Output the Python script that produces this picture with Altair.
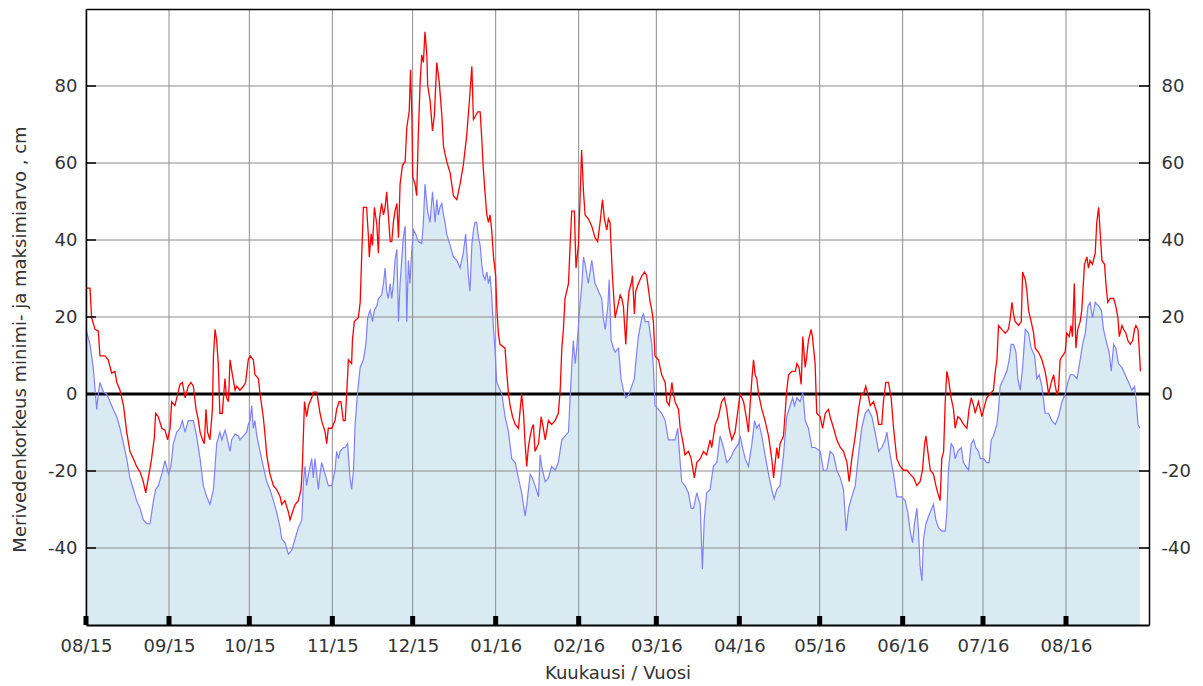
import altair as alt
import pandas as pd

START = "2015-08-01"

# Daily maximum sea level (cm), day offset from START
max_days = [0, 1.5, 2.1, 3.4, 4.6, 5.2, 7.1, 8.3, 9.6, 10.8, 11.5, 12.7, 14.0, 15.2, 16.4, 17.7, 18.9, 20.2, 21.4, 22.3,
            23.3, 24.5, 25.5, 26.0, 27.0, 28.3, 29.5, 30.5, 31.4, 32.0, 33.2, 33.9, 35.1, 36.0, 37.0, 38.2, 39.2, 40.1,
            41.1, 42.0, 42.6, 43.5, 44.2, 44.8, 45.4, 46.3, 47.2, 47.6, 48.2, 48.8, 49.4, 50.0, 50.9, 51.9, 52.5, 53.2,
            53.8, 54.7, 55.7, 56.3, 57.5, 58.8, 59.6, 60.6, 61.3, 62.5, 63.1, 64.4, 65.0, 66.2, 66.9, 67.5, 68.7, 70.0,
            71.2, 72.5, 73.1, 74.3, 75.6, 76.2, 77.1, 78.1, 79.3, 80.3, 80.8, 81.6, 82.4, 83.1, 84.3, 84.9, 86.2, 87.4,
            88.0, 89.3, 89.9, 90.5, 91.8, 93.0, 93.6, 94.5, 95.2, 96.1, 96.8, 97.4, 98.0, 99.2, 99.5, 100.2, 101.7,
            102.4, 103.0, 103.6, 104.8, 105.5, 105.8, 106.5, 107.0, 107.7, 108.6, 109.2, 109.6, 110.4, 111.1, 111.7,
            112.3, 112.9, 113.6, 114.2, 114.8, 115.4, 116.1, 116.7, 117.3, 118.2, 119.2, 119.8, 120.7, 121.2, 121.7,
            122.0, 122.9, 123.5, 124.1, 124.8, 125.4, 126.0, 126.6, 127.3, 127.6, 128.5, 129.4, 130.1, 131.0, 131.9,
            132.9, 133.5, 134.7, 136.0, 137.2, 138.5, 139.7, 140.9, 142.2, 143.4, 144.1, 144.7, 146.3, 147.2, 147.8,
            148.4, 149.0, 149.7, 150.3, 150.9, 151.5, 152.2, 153.0, 153.4, 154.0, 154.6, 156.5, 157.1, 157.8, 158.4,
            159.3, 160.3, 161.5, 162.7, 163.4, 164.0, 164.6, 165.2, 165.9, 166.5, 167.1, 167.7, 169.0, 170.0, 170.8,
            171.5, 172.7, 173.9, 175.2, 176.4, 177.1, 177.7, 178.3, 178.9, 180.2, 180.8, 181.4, 182.4, 183.0, 183.9,
            184.5, 185.1, 185.8, 186.4, 187.6, 188.9, 190.1, 191.1, 192.0, 192.9, 193.6, 194.5, 195.1, 195.7, 196.6,
            197.6, 198.9, 199.5, 200.1, 200.7, 201.6, 202.3, 202.8, 203.6, 204.1, 204.8, 205.3, 206.3, 207.6, 208.6,
            209.4, 210.7, 211.3, 211.9, 212.5, 213.8, 215.0, 216.3, 216.9, 217.8, 218.8, 219.4, 220.0, 221.3, 221.9,
            222.8, 223.7, 225.0, 226.0, 227.2, 228.1, 229.4, 230.6, 231.8, 233.1, 233.7, 235.0, 236.2, 237.4, 238.4,
            239.3, 240.2, 241.2, 242.4, 243.7, 244.3, 245.6, 246.8, 247.4, 248.0, 248.7, 249.3, 249.9, 250.5, 251.2,
            252.4, 253.6, 254.9, 256.1, 256.8, 257.4, 258.0, 258.6, 259.2, 260.5, 261.1, 261.7, 262.4, 263.6, 264.9,
            265.5, 266.3, 267.1, 267.7, 268.6, 269.2, 269.8, 270.8, 271.3, 272.3, 272.9, 274.2, 275.1, 276.1, 277.3,
            277.9, 279.2, 280.4, 281.7, 282.9, 284.2, 285.0, 286.0, 287.3, 288.5, 289.5, 290.4, 291.2, 292.0, 292.9,
            294.1, 295.4, 296.0, 297.2, 297.8, 298.7, 299.7, 300.7, 301.6, 302.8, 304.1, 305.3, 306.6, 307.8, 309.1,
            310.3, 311.5, 312.4, 313.2, 313.7, 314.4, 315.3, 316.5, 317.4, 318.1, 319.0, 319.6, 320.3, 320.9, 321.5,
            322.1, 323.1, 324.0, 324.6, 325.6, 326.5, 327.7, 329.0, 329.8, 330.6, 331.5, 332.1, 333.3, 334.0, 334.6,
            335.6, 336.4, 337.7, 338.9, 339.6, 340.2, 340.8, 342.0, 343.3, 344.5, 345.2, 345.8, 346.4, 347.0, 348.3,
            349.3, 349.8, 350.8, 351.4, 352.0, 353.0, 353.9, 354.5, 355.7, 357.0, 358.2, 358.9, 359.5, 360.5, 361.4,
            362.0, 362.6, 363.2, 363.8, 364.7, 365.7, 366.3, 367.2, 367.9, 368.4, 369.1, 369.7, 370.4, 371.3, 371.9,
            372.9, 373.8, 374.4, 375.0, 375.9, 376.9, 377.5, 378.2, 378.8, 379.4, 380.4, 380.9, 381.6, 382.5, 383.8,
            384.6, 385.4, 385.9, 386.9, 387.5, 388.4, 389.1, 390.0, 390.9, 391.6, 392.1, 392.9, 393.4, 393.8]
max_vals = [27.5, 27.5, 19.8, 16.8, 16.3, 9.9, 9.9, 8.9, 5.4, 5.9, 3.0, 1.0, -3.0, -9.9, -14.9, -16.8, -18.8, -20.3, -22.8, -25.7,
            -21.8, -16.8, -11.4, -5.0, -5.9, -8.9, -9.4, -11.9, -8.9, -2.0, -3.0, -1.0, 2.5, 3.0, -1.0, 2.0, 3.0, 2.0,
            -4.0, -6.9, -9.9, -11.9, -12.9, -4.0, -9.9, -11.9, -4.0, 9.9, 16.8, 13.9, 7.9, -5.0, -5.0, 4.0, -1.0, -2.0,
            8.9, 4.9, 1.0, 2.0, 1.0, 2.0, 3.0, 8.9, 9.9, 8.9, 5.0, 4.0, 0.0, -5.9, -10.9, -15.8, -20.8, -23.8,
            -24.8, -26.7, -28.7, -27.7, -30.7, -32.7, -30.7, -28.7, -27.7, -24.8, -18.8, -2.0, -5.9, -3.0, -1.0, 0.5, 0.5, -5.0,
            -6.9, -9.9, -12.9, -8.9, -8.9, -6.9, -4.0, -2.0, -2.0, -6.9, -6.9, 0.5, 8.9, 7.9, 13.9, 18.8, 19.8,
            23.8, 36.6, 48.5, 48.5, 40.6, 35.6, 41.6, 38.6, 48.5, 44.1, 36.6, 45.5, 49.5, 46.5, 48.5,
            52.5, 46.5, 39.6, 39.6, 44.6, 47.5, 49.5, 40.6, 54.5, 59.4, 60.4, 69.3, 73.3, 84.2, 72.3,
            56.4, 54.5, 51.5, 67.3, 81.2, 88.1, 86.1, 94.1, 88.1, 80.2, 76.2, 68.3, 72.3, 86.1, 81.2,
            72.3, 64.4, 60.4, 57.4, 51.5, 50.5, 54.5, 59.4, 67.3, 78.2, 85.1, 71.3, 73.3, 73.3, 66.3,
            58.4, 52.5, 46.5, 44.6, 46.5, 42.6, 35.6, 30.7, 22.8, 15.8, 12.9, 11.9, 5.9, 0.0, -3.0,
            -5.9, -7.9, -8.9, 0.0, -5.0, -12.9, -18.8, -13.9, -10.9, -8.9, -7.9, -14.9, -12.9, -5.9, -8.9,
            -11.9, -6.9, -7.9, -6.9, -5.0, 1.0, 11.9, 16.8, 24.8, 28.7, 38.6, 47.5, 47.5, 32.7, 38.6,
            50.5, 63.4, 52.5, 46.5, 45.5, 43.6, 40.6, 39.6, 44.6, 50.5, 45.5, 42.6, 45.5, 44.6, 30.7,
            19.8, 23.8, 25.7, 24.8, 22.8, 12.9, 22.8, 26.7, 28.7, 30.7, 20.8, 26.7, 28.7, 30.7, 31.7,
            30.7, 23.8, 21.8, 18.8, 9.9, 8.9, 5.0, 3.0, -2.0, -3.0, 3.0, 0.0, -2.0, -4.0, -8.9,
            -11.9, -15.8, -14.9, -16.8, -21.8, -17.8, -16.8, -14.9, -15.8, -11.9, -13.9, -7.9, -5.9, -2.0, -1.0,
            -4.0, -8.9, -11.9, -9.9, -3.0, 0.0, -2.0, -6.9, -9.9, -3.0, 4.0, 8.9, 5.0, 4.0, 0.0,
            -4.0, -6.9, -10.9, -16.8, -21.8, -17.8, -13.9, -16.8, -12.9, -10.9, -5.0, 1.0, 5.0, 5.9, 5.9,
            7.9, 6.9, 2.5, 14.9, 6.9, 9.9, 13.9, 16.8, 14.9, 7.9, -5.0, -5.9, -8.9, -5.0, -4.0,
            -5.9, -8.9, -11.9, -13.9, -14.9, -17.8, -22.8, -16.8, -10.9, -4.0, 0.0, 0.0, 2.0, 0.0, -3.0,
            -2.0, -5.0, -7.9, -7.9, -2.0, 3.0, 3.0, -1.0, -8.9, -16.8, -18.8, -19.8, -19.8, -20.8, -21.8,
            -23.8, -22.8, -19.8, -12.9, -10.9, -14.9, -19.8, -20.8, -23.8, -25.7, -27.7, -16.8, -14.9, -2.0, 5.9,
            4.0, -1.0, -4.0, -8.9, -5.9, -6.4, -7.9, -8.9, -4.0, -1.0, -3.0, -5.0, -2.0, -4.0, -5.9,
            -3.0, -1.0, 0.0, 1.0, 5.9, 8.9, 17.8, 16.8, 15.8, 16.8, 19.8, 23.8, 20.8, 18.8, 17.8,
            18.8, 31.7, 29.7, 26.7, 21.8, 18.8, 15.8, 11.9, 10.9, 8.9, 5.9, 3.0, 0.0, 3.0, 5.0,
            2.0, 0.0, 1.0, 8.9, 9.9, 10.9, 15.8, 14.9, 17.8, 14.9, 28.7, 11.9, 16.8, 18.8, 21.8,
            33.7, 35.6, 32.7, 34.7, 33.7, 36.6, 44.6, 48.5, 41.6, 34.7, 33.7, 28.7, 23.8, 24.8, 24.8,
            22.8, 19.8, 14.9, 17.8, 16.8, 15.8, 13.9, 12.9, 13.9, 16.8, 17.8, 16.8, 10.9, 5.9]

# Daily minimum sea level (cm), day offset from START
min_days = [0, 1.5, 2.7, 4.0, 4.6, 5.2, 6.5, 7.7, 9.0, 10.2, 11.5, 12.7, 14.0, 15.2, 16.4, 17.7, 18.9, 20.2, 21.4, 22.7,
            23.9, 25.2, 26.0, 27.0, 28.3, 29.5, 30.8, 31.7, 32.6, 33.9, 35.1, 36.0, 37.0, 38.2, 39.2, 40.1, 41.3, 42.6,
            43.8, 45.1, 46.3, 47.6, 48.8, 50.0, 50.7, 51.9, 52.5, 53.8, 54.4, 55.7, 56.9, 57.5, 58.8, 60.0, 60.6, 61.3,
            61.9, 62.5, 63.1, 63.8, 65.0, 66.2, 67.5, 68.7, 70.0, 71.2, 72.5, 73.1, 74.3, 75.6, 76.8, 78.1, 79.3, 80.6,
            81.2, 81.8, 82.4, 83.1, 84.3, 84.9, 85.5, 86.8, 87.4, 88.0, 89.3, 90.5, 91.8, 93.0, 93.6, 94.3, 94.9, 96.1,
            96.8, 97.7, 98.6, 99.2, 99.9, 100.5, 101.5, 102.4, 103.6, 104.5, 105.2, 106.1, 107.0, 107.7, 108.6, 109.2,
            110.4, 111.1, 111.7, 112.3, 112.9, 113.6, 114.2, 114.8, 115.4, 116.1, 116.7, 117.3, 117.9, 118.5, 119.2,
            119.8, 120.4, 121.0, 121.6, 122.3, 123.1, 124.1, 125.4, 126.0, 126.6, 127.6, 128.5, 129.4, 130.4, 131.0,
            131.6, 132.2, 132.9, 133.5, 134.1, 134.7, 136.0, 137.2, 138.5, 139.7, 140.9, 141.8, 142.8, 143.4, 144.1,
            144.7, 145.3, 145.9, 146.6, 147.2, 147.8, 148.4, 149.0, 149.7, 150.3, 150.9, 151.5, 152.2, 152.8, 153.4,
            154.0, 155.3, 156.5, 157.8, 159.0, 160.3, 161.5, 162.7, 164.0, 164.6, 165.9, 166.7, 167.7, 169.0, 169.6,
            170.2, 171.5, 172.7, 173.9, 175.2, 176.4, 177.7, 178.9, 180.2, 180.8, 181.4, 182.0, 182.7, 183.3, 184.2,
            185.2, 185.8, 186.4, 187.6, 188.9, 190.1, 191.4, 192.6, 193.2, 193.9, 194.9, 195.4, 196.1, 197.0, 197.6,
            198.9, 199.8, 200.7, 201.6, 202.8, 203.8, 204.8, 205.7, 206.3, 207.6, 208.2, 208.8, 210.1, 211.3, 211.9,
            212.5, 213.8, 215.0, 216.3, 217.5, 218.8, 220.0, 221.0, 221.9, 222.5, 223.7, 225.0, 226.0, 226.9, 228.1,
            229.4, 230.2, 230.9, 231.8, 233.1, 234.3, 235.6, 236.8, 238.1, 239.3, 240.6, 241.8, 243.7, 244.3, 245.2,
            246.2, 247.4, 248.7, 249.7, 250.5, 251.4, 252.4, 253.6, 254.9, 256.1, 257.0, 258.0, 259.2, 260.5, 261.7,
            263.0, 263.9, 264.6, 265.5, 266.7, 267.7, 268.6, 269.8, 271.1, 272.3, 274.2, 275.4, 276.7, 277.9, 279.2,
            280.4, 281.7, 282.9, 283.9, 284.8, 286.0, 287.3, 288.5, 289.7, 291.0, 292.2, 293.5, 294.7, 296.0, 297.2,
            298.5, 299.1, 300.3, 301.6, 302.8, 304.7, 305.9, 306.9, 307.8, 308.7, 309.4, 310.3, 310.9, 311.5, 312.2,
            312.8, 313.7, 314.7, 315.9, 316.5, 317.4, 318.4, 319.6, 320.9, 321.5, 322.1, 323.1, 324.0, 324.6, 325.6,
            326.9, 327.7, 328.6, 329.6, 330.6, 331.5, 332.3, 333.3, 334.0, 335.2, 336.4, 337.3, 338.1, 338.9, 340.2,
            340.8, 341.4, 342.7, 343.9, 344.8, 345.5, 346.4, 347.3, 348.0, 348.9, 349.8, 350.8, 352.0, 353.0, 354.3,
            355.1, 356.0, 357.0, 358.2, 359.5, 360.7, 362.0, 363.2, 364.5, 365.7, 366.7, 367.6, 368.8, 370.1, 371.3,
            372.2, 373.2, 374.2, 375.0, 375.9, 376.9, 378.2, 379.2, 380.0, 381.3, 382.1, 382.9, 383.8, 384.6, 385.6,
            386.9, 388.1, 389.4, 390.6, 391.6, 392.1, 392.9, 393.6]
min_vals = [16.8, 12.9, 6.9, -4.0, 0.0, 3.0, 0.5, 0.0, -2.0, -4.0, -5.9, -8.9, -12.9, -16.8, -21.8, -24.8, -27.7, -29.7, -32.7, -33.7,
            -33.7, -27.7, -24.8, -23.8, -20.8, -17.3, -20.8, -18.8, -12.9, -9.9, -8.9, -6.9, -9.9, -6.9, -6.9, -6.9, -10.9, -16.8,
            -23.8, -26.7, -28.7, -24.8, -12.9, -9.9, -11.9, -9.4, -10.9, -14.9, -11.9, -10.4, -10.9, -11.9, -10.9, -9.9, -7.9, -6.9,
            -3.0, -8.9, -6.9, -10.9, -14.9, -18.8, -22.8, -24.8, -27.7, -30.7, -34.7, -37.6, -38.6, -41.6, -40.6, -37.6, -34.7, -32.7,
            -22.8, -18.8, -23.8, -20.8, -16.8, -21.8, -16.8, -24.8, -20.8, -17.8, -20.8, -23.8, -23.8, -19.8, -14.9, -16.8, -14.9, -13.9,
            -13.9, -12.9, -21.8, -24.8, -19.8, -7.9, 1.0, 6.9, 8.9, 12.9, 19.8, 21.8, 18.8, 21.8, 22.8, 24.8,
            25.7, 28.7, 32.7, 26.7, 24.8, 28.7, 24.8, 28.7, 34.7, 37.6, 18.8, 28.7, 34.7, 40.6, 43.6,
            18.8, 34.7, 28.7, 36.6, 42.6, 41.6, 39.6, 39.1, 44.6, 54.5, 47.5, 44.6, 52.5, 44.6, 50.5,
            46.5, 48.5, 49.5, 46.5, 44.6, 41.6, 38.6, 35.6, 34.7, 32.7, 36.6, 41.6, 30.7, 26.7, 38.6,
            42.6, 44.6, 44.6, 40.6, 38.6, 33.7, 30.7, 29.7, 31.7, 28.7, 30.7, 25.7, 16.8, 10.9, 3.0,
            2.0, 0.0, -5.9, -9.9, -16.8, -17.8, -21.8, -25.7, -31.7, -28.7, -20.8, -21.8, -23.8, -26.7, -15.8,
            -18.8, -22.8, -21.8, -18.8, -19.8, -17.8, -11.9, -10.9, -9.9, -1.0, 6.9, 13.9, 7.9, 11.9, 20.8,
            28.7, 35.6, 33.7, 28.7, 34.7, 28.7, 26.7, 24.8, 19.8, 16.8, 22.8, 29.7, 13.9, 11.9, 10.9,
            11.9, 4.0, 1.0, -1.0, 0.0, 2.0, 4.0, 10.9, 14.9, 19.8, 20.8, 18.8, 18.8, 12.9, 6.9,
            -3.0, -4.0, -5.0, -6.9, -11.9, -11.9, -11.9, -8.9, -17.8, -22.8, -23.8, -25.7, -29.7, -29.7, -25.7,
            -28.7, -45.5, -32.7, -25.7, -24.8, -18.8, -17.8, -10.9, -13.9, -17.8, -16.8, -14.9, -12.9, -10.9, -13.9,
            -16.8, -18.8, -12.9, -6.9, -8.9, -7.9, -10.9, -15.8, -20.8, -24.8, -27.2, -24.8, -23.8, -15.8, -5.9,
            -3.0, -1.0, -3.0, -1.0, -2.0, 0.5, -6.9, -8.9, -13.9, -13.9, -14.9, -19.8, -19.8, -14.9, -15.8,
            -19.8, -21.8, -24.8, -35.6, -29.7, -26.7, -23.8, -15.8, -8.9, -5.0, -4.0, -5.9, -9.9, -14.9, -13.9,
            -11.9, -9.9, -15.8, -20.8, -26.7, -26.7, -27.7, -30.7, -35.6, -38.6, -33.7, -29.7, -35.6, -44.6, -48.5,
            -37.6, -33.7, -31.7, -29.7, -28.7, -32.7, -34.7, -35.6, -35.6, -30.7, -19.8, -12.9, -13.9, -16.8, -14.9,
            -13.9, -17.8, -18.8, -19.8, -12.9, -11.9, -13.9, -14.9, -16.8, -16.8, -17.8, -17.8, -11.9, -10.9, -7.9,
            -4.0, 2.0, 4.0, 5.9, 8.9, 12.9, 12.9, 10.9, 4.0, 1.0, 6.9, 16.8, 15.8, 11.9, 9.9,
            4.0, 5.0, 2.0, -5.0, -5.0, -6.9, -7.9, -5.9, -2.0, 0.0, 3.0, 5.0, 5.0, 4.0, 8.9,
            12.9, 15.8, 22.8, 23.8, 19.8, 23.8, 22.8, 21.8, 16.8, 12.9, 10.9, 5.9, 12.9, 11.9, 7.9,
            6.9, 5.0, 3.0, 1.0, 2.0, -1.0, -7.9, -8.9]

month_starts = ["2015-08-01", "2015-09-01", "2015-10-01", "2015-11-01", "2015-12-01", "2016-01-01", "2016-02-01",
                "2016-03-01", "2016-04-01", "2016-05-01", "2016-06-01", "2016-07-01", "2016-08-01"]
y_tick_values = [-40, -20, 0, 20, 40, 60, 80]
grid_y_values = [-40, -20, 20, 40, 60, 80]
zero_level = [0]
Y_DOMAIN = [-60, 100]

start = pd.Timestamp(START)
df_max = pd.DataFrame({"date": start + pd.to_timedelta(max_days, unit="D"), "level": max_vals})
df_min = pd.DataFrame({"date": start + pd.to_timedelta(min_days, unit="D"), "level": min_vals})
df_months = pd.DataFrame({"date": pd.to_datetime(month_starts)})
df_ticks = pd.DataFrame({"v": y_tick_values})
df_grid = pd.DataFrame({"v": grid_y_values})
df_zero = pd.DataFrame({"v": zero_level})

W, H = 1063, 616
FONT = "DejaVu Sans"
TXT = "#333333"
HYPHEN_LABEL = "'' + datum.value"

x_dom = [alt.DateTime(year=2015, month=8, date=1), alt.DateTime(year=2016, month=9, date=1)]
x_vals = [alt.DateTime(year=int(m[:4]), month=int(m[5:7]), date=1) for m in month_starts]
xscale = alt.Scale(domain=x_dom)
yscale = alt.Scale(domain=Y_DOMAIN, nice=False, zero=False)

x_bottom = alt.X("date:T", scale=xscale,
                 axis=alt.Axis(orient="bottom", values=x_vals, format="%m/%y", ticks=False, grid=False,
                               labelFlush=False, labelOverlap=False,
                               domain=True, domainColor="black", domainWidth=2, labelPadding=12,
                               title="Kuukausi / Vuosi", titleY=48, titleBaseline="middle", zindex=1))
x_top = alt.X("date:T", scale=xscale,
              axis=alt.Axis(orient="top", labels=False, ticks=False, grid=False, domain=True,
                            domainColor="black", domainWidth=1.5, title=None, zindex=1))
x_plain = alt.X("date:T", scale=xscale, axis=None)

area = alt.Chart(df_min).mark_area(color="#d9eaf2", opacity=1).encode(
    x=x_bottom,
    y=alt.Y("level:Q", scale=yscale,
            axis=alt.Axis(orient="left", values=y_tick_values, ticks=False, grid=False, domain=True,
                          domainColor="black", domainWidth=1.5, labelPadding=9, labelExpr=HYPHEN_LABEL,
                          title="Merivedenkorkeus minimi- ja maksimiarvo , cm",
                          titleX=-66, titleY=330, titleAlign="center", titleBaseline="middle",
                          titleAngle=-90, zindex=1)),
    y2=alt.datum(Y_DOMAIN[0]),
)

hgrid = alt.Chart(df_grid).mark_rule(color="#8c8c8c", strokeWidth=1).encode(
    y=alt.Y("v:Q", scale=yscale, axis=None),
)
vgrid = alt.Chart(df_months).mark_rule(color="#8c8c8c", strokeWidth=1).encode(
    x=x_plain,
)
zero = alt.Chart(df_zero).mark_rule(color="black", strokeWidth=3).encode(
    y=alt.Y("v:Q", scale=yscale, axis=None),
)
blue = alt.Chart(df_min).mark_line(color="#8080ff", strokeWidth=1.2).encode(
    x=x_top,
    y=alt.Y("level:Q", scale=yscale, axis=None),
)
red = alt.Chart(df_max).mark_line(color="#ff0000", strokeWidth=1.3).encode(
    x=x_plain,
    y=alt.Y("level:Q", scale=yscale,
            axis=alt.Axis(orient="right", values=y_tick_values, ticks=False, grid=False, domain=True,
                          domainColor="black", domainWidth=1.5, labelPadding=12, labelExpr=HYPHEN_LABEL,
                          title=None, zindex=1)),
)
left_ticks = alt.Chart(df_ticks).mark_rule(color="black", strokeWidth=1.5).encode(
    y=alt.Y("v:Q", scale=yscale, axis=None), x=alt.value(0), x2=alt.value(10),
)
right_ticks = alt.Chart(df_ticks).mark_rule(color="black", strokeWidth=1.5).encode(
    y=alt.Y("v:Q", scale=yscale, axis=None), x=alt.value(W - 10), x2=alt.value(W),
)
bottom_ticks = alt.Chart(df_months).mark_rule(color="black", strokeWidth=5).encode(
    x=x_plain, y=alt.value(H - 9), y2=alt.value(H),
)

chart = alt.layer(
    area, hgrid, vgrid, zero, blue, red, left_ticks, right_ticks, bottom_ticks
).resolve_axis(
    x="independent", y="independent"
).properties(
    width=W, height=H,
    autosize=alt.AutoSizeParams(type="none"),
    padding={"left": 78, "top": 1, "right": 46, "bottom": 60},
    background="white",
).configure_view(
    stroke=None
).configure_axis(
    labelFont=FONT, labelFontSize=18, labelColor=TXT,
    titleFont=FONT, titleFontSize=18, titleFontWeight="normal", titleColor=TXT,
)

chart.save("out.html", embed_options={"renderer": "svg", "actions": False})
